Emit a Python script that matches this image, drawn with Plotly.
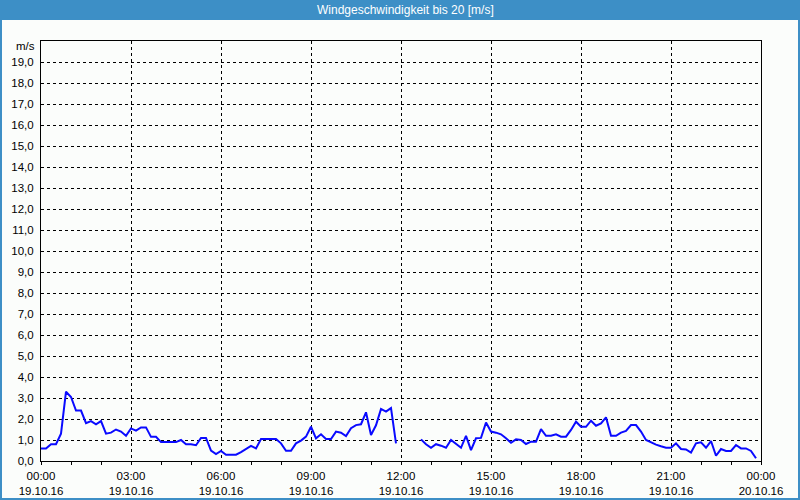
import plotly.graph_objects as go
from datetime import datetime, timedelta

# 10-minute wind speed values (m/s), 19.10.16 00:00 .. 23:50; None = no data
wind = [
    0.6, 0.6, 0.8, 0.8, 1.3, 3.3, 3.05, 2.4, 2.4, 1.8,
    1.9, 1.75, 1.9, 1.3, 1.35, 1.5, 1.4, 1.2, 1.55, 1.45,
    1.6, 1.6, 1.15, 1.15, 0.9, 0.9, 0.9, 0.9, 1.0, 0.8,
    0.8, 0.75, 1.1, 1.1, 0.5, 0.33, 0.48, 0.3, 0.3, 0.3,
    0.42, 0.55, 0.72, 0.6, 1.05, 1.05, 1.05, 1.05, 0.84, 0.49,
    0.49, 0.84, 0.97, 1.16, 1.63, 1.08, 1.27, 1.05, 1.05, 1.4,
    1.35, 1.19, 1.56, 1.71, 1.75, 2.32, 1.24, 1.7, 2.48, 2.35,
    2.52, 0.84, None, None, None, None, 1.03, 0.8, 0.63, 0.8,
    0.73, 0.63, 1.0, 0.8, 0.63, 1.2, 0.52, 1.08, 1.1, 1.83,
    1.4, 1.35, 1.27, 1.08, 0.87, 1.03, 1.0, 0.81, 0.92, 0.92,
    1.52, 1.2, 1.2, 1.27, 1.16, 1.16, 1.48, 1.87, 1.63, 1.63,
    1.92, 1.68, 1.79, 2.08, 1.2, 1.2, 1.35, 1.43, 1.71, 1.71,
    1.4, 1.0, 0.87, 0.78, 0.7, 0.63, 0.63, 0.84, 0.57, 0.55,
    0.4, 0.84, 0.89, 0.63, 0.95, 0.25, 0.57, 0.48, 0.48, 0.76,
    0.6, 0.6, 0.48, 0.13,
]
start = datetime(2016, 10, 19, 0, 0)
times = [start + timedelta(minutes=10 * i) for i in range(len(wind))]

tick_times = [start + timedelta(hours=3 * k) for k in range(9)]
tick_labels = [
    "00:00<br>19.10.16", "03:00<br>19.10.16", "06:00<br>19.10.16",
    "09:00<br>19.10.16", "12:00<br>19.10.16", "15:00<br>19.10.16",
    "18:00<br>19.10.16", "21:00<br>19.10.16", "00:00<br>20.10.16",
]
y_ticks = list(range(0, 20))
y_labels = [f"{v},0" for v in y_ticks]

TITLE = "Windgeschwindigkeit bis 20 [m/s]"
UNIT = "m/s"

FONT = "Liberation Sans"
BLUE = "#3d8fc6"
BG = "#fbfdfb"

# plot area in pixels: x 41..761, y 41..461
L, R, T, B = 41, 761, 41, 461
W, H = R - L, B - T


def px(x):
    return (x - L) / W


def py(y):
    return (B - y) / H


fig = go.Figure()
fig.add_trace(go.Scatter(
    x=times, y=wind, mode="lines", connectgaps=False,
    line=dict(color="#0a0aff", width=2), hoverinfo="skip", showlegend=False,
))

fig.update_layout(
    width=800, height=500,
    margin=dict(l=L, r=800 - R, t=T, b=500 - B, autoexpand=False),
    paper_bgcolor=BG, plot_bgcolor=BG,
    font=dict(family=FONT, size=11.5, color="#000000"),
    showlegend=False,
)
fig.update_xaxes(
    range=[start, start + timedelta(hours=24)], automargin=False,
    tickmode="array", tickvals=tick_times, ticktext=tick_labels,
    showgrid=True, gridcolor="#000000", griddash="3px,3px", gridwidth=1,
    showline=True, linecolor="#000000", linewidth=1, mirror=True,
    ticks="", ticklabelstandoff=4,
    minor=dict(dtick=3600000, ticks="outside", ticklen=3, tickcolor="#000000", showgrid=False),
    zeroline=False,
)
fig.update_yaxes(
    range=[0, 20], automargin=False,
    tickmode="array", tickvals=y_ticks, ticktext=y_labels,
    showgrid=True, gridcolor="#000000", griddash="3px,3px", gridwidth=1,
    showline=True, linecolor="#000000", linewidth=1, mirror=True,
    ticks="", ticklabelstandoff=4, zeroline=False,
)

shapes = [
    # title bar
    dict(type="rect", xref="paper", yref="paper", x0=px(0), x1=px(800), y0=py(20), y1=py(0),
         fillcolor=BLUE, line=dict(width=0), layer="below"),
    # page border
    dict(type="rect", xref="paper", yref="paper", x0=px(0), x1=px(2), y0=py(500), y1=py(0),
         fillcolor=BLUE, line=dict(width=0)),
    dict(type="rect", xref="paper", yref="paper", x0=px(798), x1=px(800), y0=py(500), y1=py(0),
         fillcolor=BLUE, line=dict(width=0)),
    dict(type="rect", xref="paper", yref="paper", x0=px(0), x1=px(800), y0=py(500), y1=py(498),
         fillcolor=BLUE, line=dict(width=0)),
]
fig.update_layout(shapes=shapes)

fig.add_annotation(text=TITLE, xref="paper", yref="paper", x=px(405), y=py(10),
                   showarrow=False, xanchor="center", yanchor="middle",
                   font=dict(family=FONT, size=12, color="#ffffff"))
fig.add_annotation(text=UNIT, xref="paper", yref="paper", x=px(37), y=py(46),
                   showarrow=False, xanchor="right", yanchor="middle",
                   font=dict(family=FONT, size=11.5, color="#000000"))

fig.write_html("out.html")
